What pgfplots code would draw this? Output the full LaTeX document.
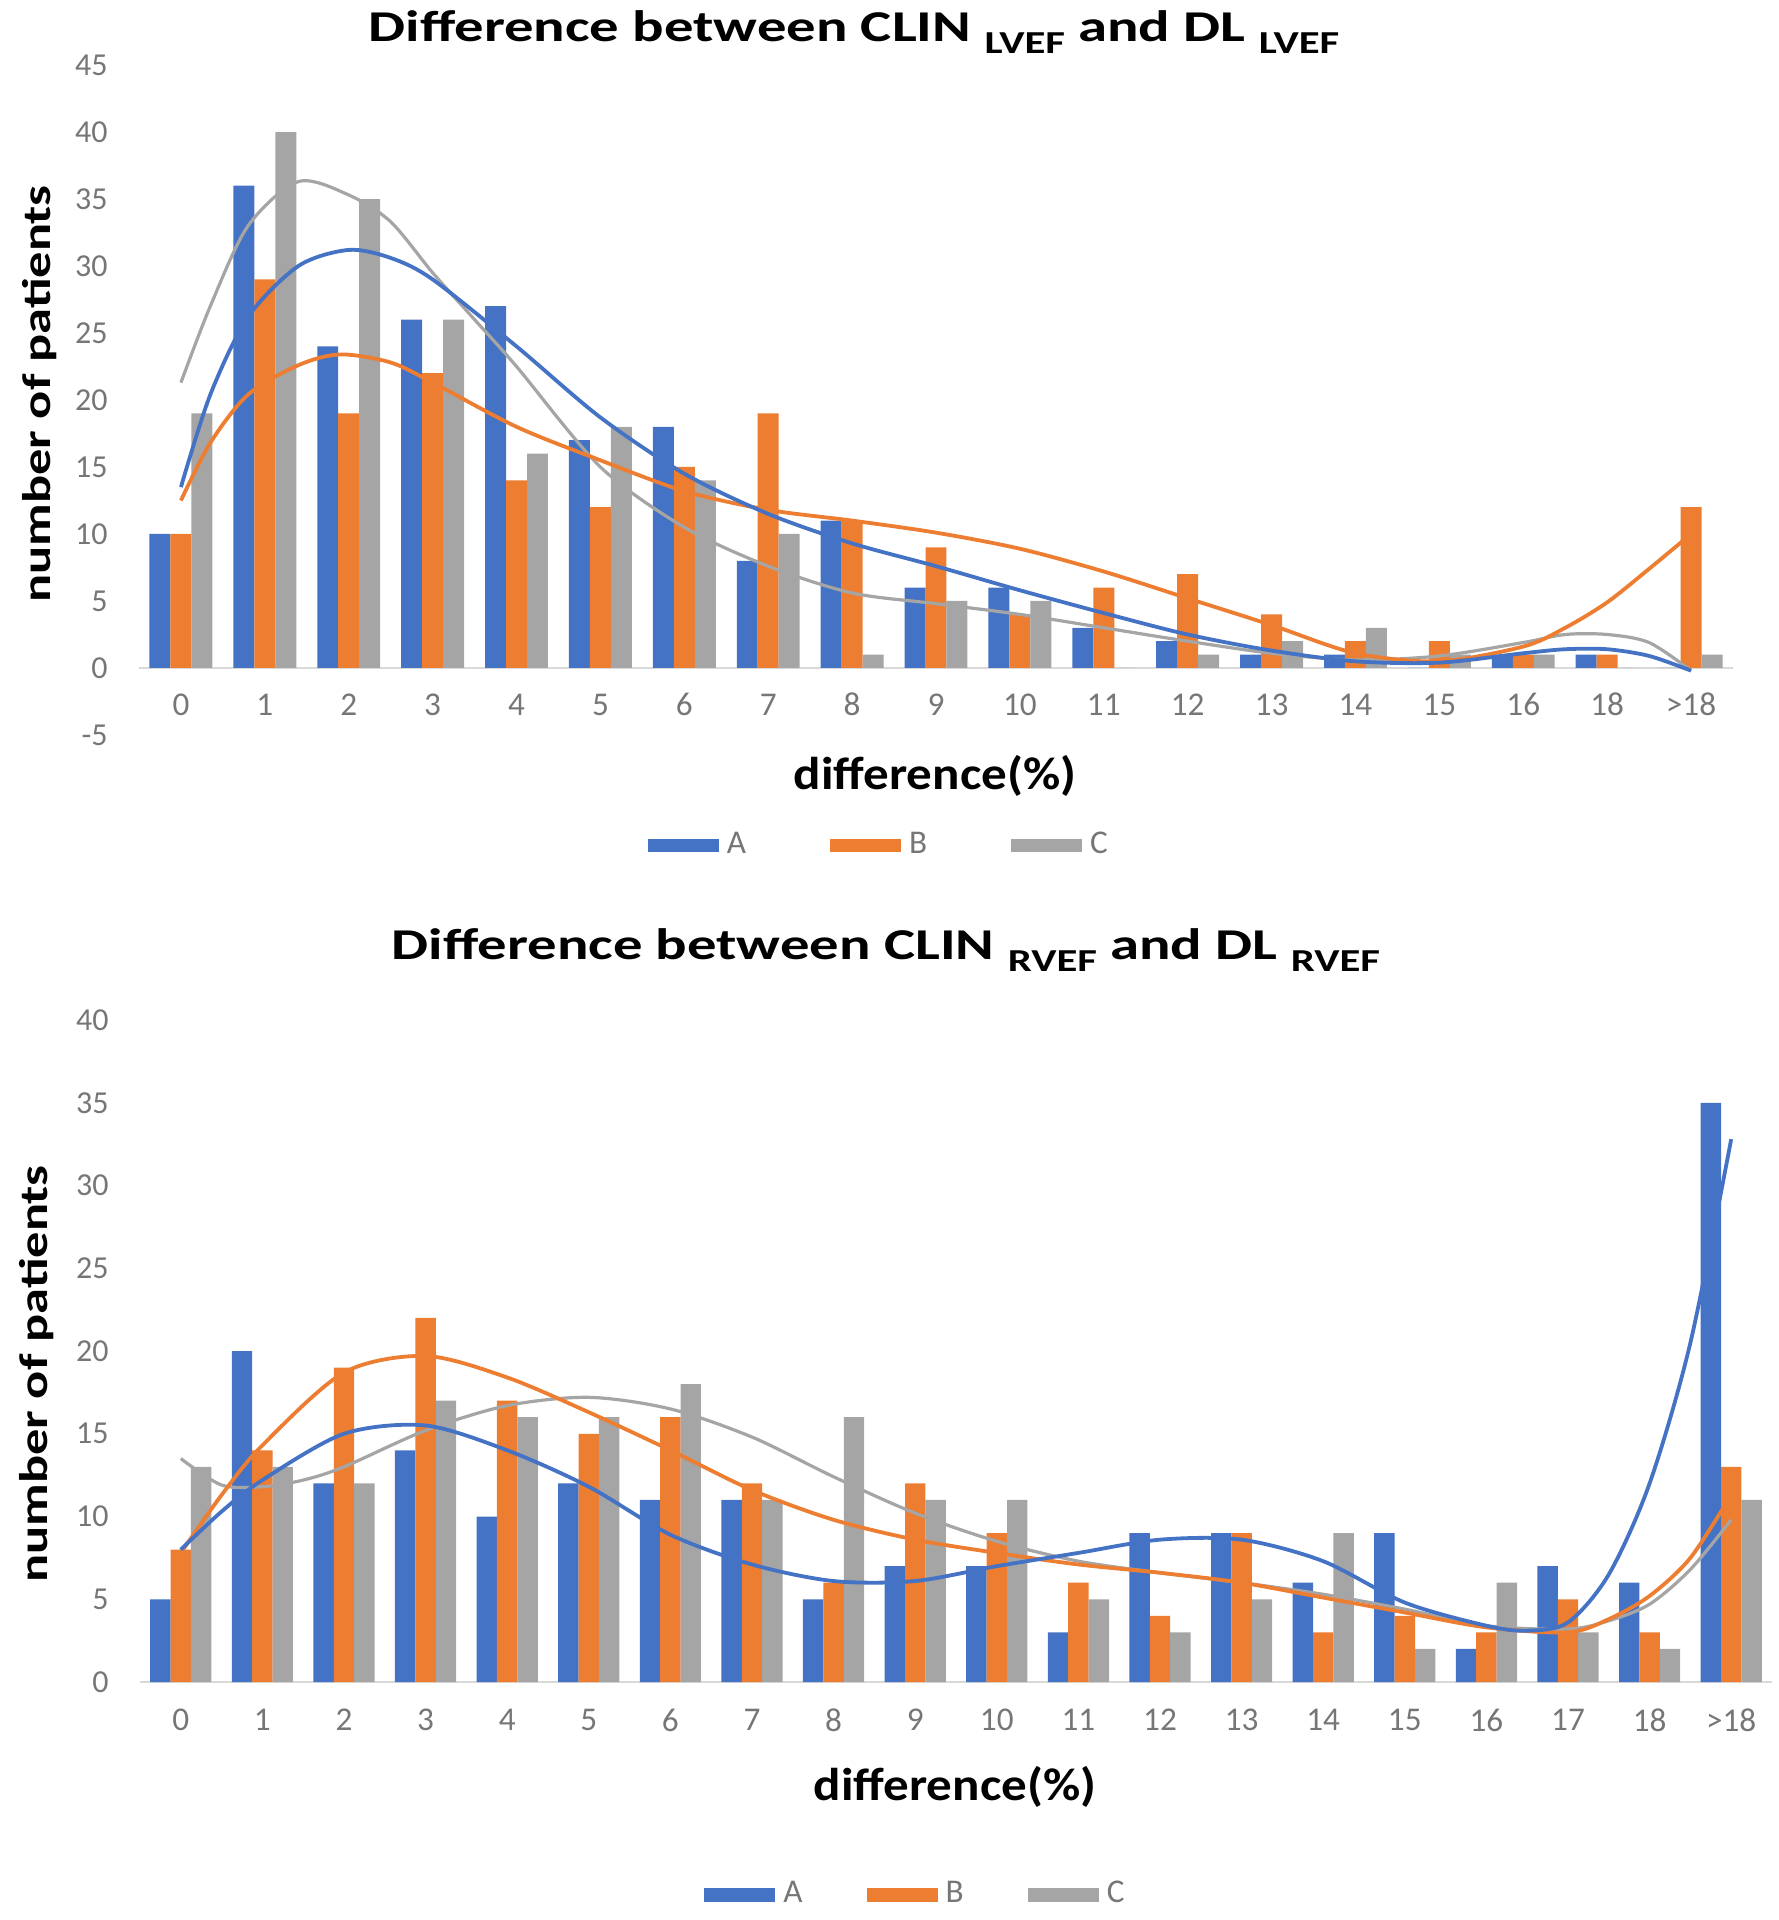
\documentclass[border=0pt]{standalone}
\usepackage{pgfplots}
\pgfplotsset{compat=1.18}
\usepackage{fontspec}
\setmainfont{Carlito}
\definecolor{cA}{HTML}{4472C4}
\definecolor{cB}{HTML}{ED7D31}
\definecolor{cC}{HTML}{A5A5A5}
\definecolor{tk}{HTML}{767676}
\definecolor{axl}{HTML}{D9D9D9}

\pgfplotstableread{
x A B C
0 10 10 19
1 36 29 40
2 24 19 35
3 26 22 26
4 27 14 16
5 17 12 18
6 18 15 14
7 8 19 10
8 11 11 1
9 6 9 5
10 6 4 5
11 3 6 0
12 2 7 1
13 1 4 2
14 1 2 3
15 0 2 1
16 1 1 1
17 1 1 0
18 0 12 1
}\lvef

\pgfplotstableread{
x A B C
0 5 8 13
1 20 14 13
2 12 19 12
3 14 22 17
4 10 17 16
5 12 15 16
6 11 16 18
7 11 12 11
8 5 6 16
9 7 12 11
10 7 9 11
11 3 6 5
12 9 4 3
13 9 9 5
14 6 3 9
15 9 4 2
16 2 3 6
17 7 5 3
18 6 3 2
19 35 13 11
}\rvef

\pgfplotsset{
  mybar/.style={ybar, bar width=0.25, draw=none, fill=#1,
    legend image code/.code={\fill[#1] (0pt,-1.7pt) rectangle (17.75pt,1.7pt);}},
  mybase/.style={
    scale only axis, anchor=south west,
    axis line style={draw=none}, major tick length=0pt,
    clip=false,
    yticklabel style={font=\fontsize{8}{8}\selectfont, text=tk, xshift=-4.3pt},
    xticklabel style={font=\fontsize{8.3}{8.3}\selectfont, text=tk, anchor=center},
    legend style={draw=none, fill=none, legend columns=3, anchor=center,
      font=\fontsize{8.3}{8.3}\selectfont\color{tk},
      /tikz/every odd column/.append style={column sep=0pt}},
  },
  trend/.style={smooth, forget plot, line width=0.95pt, #1},
}

\begin{document}
\begin{tikzpicture}
\useasboundingbox (0,0) rectangle (444.75pt,480pt);

% ---------- top chart ----------
\node[anchor=base, font=\bfseries\fontsize{11}{11}\selectfont] at (213.5pt,469.6pt)
  {\scalebox{1.335}[1]{Difference between CLIN \raisebox{-3pt}{\fontsize{8}{8}\selectfont LVEF} and DL \raisebox{-3pt}{\fontsize{8}{8}\selectfont LVEF}}};
\node[rotate=90, font=\bfseries\fontsize{10}{10}\selectfont] at (10pt,381.5pt)
  {\scalebox{1.31}[1]{number of patients}};
\node[anchor=base, font=\bfseries\fontsize{11.5}{11.5}\selectfont] at (233.75pt,282.5pt)
  {\scalebox{1.11}[1]{difference(\%)}};

\begin{axis}[mybase,
  at={(34.75pt,296.25pt)}, width=398.5pt, height=167.5pt,
  xmin=-0.5, xmax=18.5, ymin=-5, ymax=45,
  xtick={0,...,18},
  xticklabels={0,1,2,3,4,5,6,7,8,9,10,11,12,13,14,15,16,18,{>18}},
  xticklabel style={yshift=7.6pt},
  ytick={-5,0,5,10,15,20,25,30,35,40,45},
  yticklabels={-5,0,5,10,15,20,25,30,35,40,45},
  legend style={at={(0.466,-0.165)},
    /tikz/every even column/.append style={column sep=19pt}},
]
\draw[axl, line width=0.6pt] (axis cs:-0.5,0) -- (axis cs:18.5,0);
\addplot[mybar=cA, bar shift=-0.25] table[x=x,y=A] {\lvef};
\addplot[mybar=cB, bar shift=0] table[x=x,y=B] {\lvef};
\addplot[mybar=cC, bar shift=0.25] table[x=x,y=C] {\lvef};
\legend{A,B,C}
\addplot[trend=cC, line width=0.8pt] coordinates {(0,21.3) (0.35,27) (0.8,33) (1.4,36.3) (2,35.3) (2.5,33.3) (3,29.5) (3.5,26) (4,22.5) (5,15) (6,10.5) (7,7.6) (8,5.6) (9,4.8) (10,4) (11,3) (12,2) (13,1.1) (14,0.6) (15,0.9) (16,1.9) (16.5,2.5) (17,2.5) (17.5,1.9) (18,-0.2)};
\addplot[trend=cB] coordinates {(0,12.5) (0.35,16.8) (0.8,20.4) (1.4,22.6) (1.9,23.4) (2.5,22.8) (3,21.3) (4,18) (5,15.5) (6,13.2) (7,11.8) (8,11) (9,10.1) (10,8.9) (11,7.2) (12,5.2) (13,3.2) (14,1.1) (15,0.5) (16,1.6) (16.5,3.0) (17,4.9) (17.5,7.4) (18,10)};
\addplot[trend=cA] coordinates {(0,13.5) (0.35,20.4) (0.8,26.2) (1.4,30) (2,31.2) (2.5,30.6) (3,29) (4,24) (5,18.7) (6,14.5) (7,11.5) (8,9.3) (9,7.6) (10,5.8) (11,4.1) (12,2.5) (13,1.3) (14,0.5) (15,0.4) (16,1.1) (16.5,1.4) (17,1.4) (17.5,0.9) (18,-0.2)};
\end{axis}

% ---------- bottom chart ----------
\node[anchor=base, font=\bfseries\fontsize{11}{11}\selectfont] at (221.5pt,240.1pt)
  {\scalebox{1.335}[1]{Difference between CLIN \raisebox{-3pt}{\fontsize{8}{8}\selectfont RVEF} and DL \raisebox{-3pt}{\fontsize{8}{8}\selectfont RVEF}}};
\node[rotate=90, font=\bfseries\fontsize{10}{10}\selectfont] at (9.25pt,136.5pt)
  {\scalebox{1.31}[1]{number of patients}};
\node[anchor=base, font=\bfseries\fontsize{11.5}{11.5}\selectfont] at (238.75pt,30pt)
  {\scalebox{1.11}[1]{difference(\%)}};

\begin{axis}[mybase,
  at={(35pt,59.5pt)}, width=408pt, height=165.5pt,
  xmin=-0.5, xmax=19.5, ymin=0, ymax=40,
  xtick={0,...,19},
  xticklabels={0,1,2,3,4,5,6,7,8,9,10,11,12,13,14,15,16,17,18,{>18}},
  xticklabel style={yshift=-9.5pt},
  ytick={0,5,10,15,20,25,30,35,40},
  yticklabels={0,5,10,15,20,25,30,35,40},
  legend style={at={(0.477,-0.322)},
    /tikz/every even column/.append style={column sep=14pt}},
]
\draw[axl, line width=0.6pt] (axis cs:-0.5,0) -- (axis cs:19.5,0);
\addplot[mybar=cA, bar shift=-0.25] table[x=x,y=A] {\rvef};
\addplot[mybar=cB, bar shift=0] table[x=x,y=B] {\rvef};
\addplot[mybar=cC, bar shift=0.25] table[x=x,y=C] {\rvef};
\legend{A,B,C}
\addplot[trend=cC, line width=0.8pt] coordinates {(0,13.5) (0.5,11.9) (1,11.8) (1.5,12.2) (2,13) (3,15.2) (4,16.7) (5,17.2) (6,16.5) (7,14.8) (8,12.4) (9,10.2) (10,8.5) (11,7.3) (12,6.6) (13,6) (14,5.3) (15,4.4) (16,3.4) (17,3.2) (17.5,3.7) (18,4.7) (18.5,6.8) (19,9.8)};
\addplot[trend=cB] coordinates {(0,7.8) (0.5,11.3) (1,14.3) (2,18.7) (3,19.7) (4,18.4) (5,16.3) (6,14) (7,11.6) (8,9.8) (9,8.6) (10,7.8) (11,7.1) (12,6.6) (13,6) (14,5.1) (15,4.2) (16,3.3) (17,3.0) (17.5,3.8) (18,5.2) (18.5,7.5) (19,11.3)};
\addplot[trend=cA] coordinates {(0,8) (0.5,10.3) (1,12.2) (2,15) (3,15.5) (4,14) (5,11.8) (6,8.9) (7,7.1) (8,6.1) (9,6.1) (10,7) (11,7.8) (12,8.6) (13,8.6) (14,7.3) (15,4.8) (16,3.4) (16.5,3.1) (17,3.6) (17.5,6.5) (18,12) (18.5,20.5) (19,32.8)};
\end{axis}
\end{tikzpicture}
\end{document}
